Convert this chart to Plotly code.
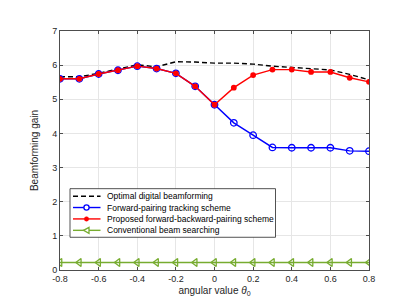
import plotly.graph_objects as go

# ---------------- data ----------------
angles = [-0.8, -0.7, -0.6, -0.5, -0.4, -0.3, -0.2, -0.1, 0.0,
          0.1, 0.2, 0.3, 0.4, 0.5, 0.6, 0.7, 0.8]
optimal = [5.66, 5.66, 5.76, 5.89, 6.01, 5.95, 6.10, 6.09, 6.06,
           6.06, 6.03, 5.97, 5.94, 5.89, 5.86, 5.73, 5.57]
forward = [5.60, 5.60, 5.74, 5.85, 5.97, 5.90, 5.76, 5.38, 4.84,
           4.31, 3.95, 3.59, 3.58, 3.58, 3.58, 3.49, 3.48]
proposed = [5.60, 5.60, 5.74, 5.85, 5.97, 5.90, 5.76, 5.38, 4.84,
            5.34, 5.71, 5.87, 5.87, 5.80, 5.80, 5.63, 5.51]
conventional = [0.22] * 17

names = ["Optimal digital beamforming",
         "Forward-pairing tracking scheme",
         "Proposed forward-backward-pairing scheme",
         "Conventional beam searching"]

xtick_vals = [-0.8, -0.6, -0.4, -0.2, 0, 0.2, 0.4, 0.6, 0.8]
xtick_text = ["-0.8", "-0.6", "-0.4", "-0.2", "0", "0.2", "0.4", "0.6", "0.8"]
ytick_vals = [0, 1, 2, 3, 4, 5, 6, 7]

# ---------------- style ----------------
W, H = 399, 299
ML, MR, MT, MB = 52, 38, 23, 35
PW, PH = W - ML - MR, H - MT - MB
FONT = "Liberation Sans, Arial, Helvetica, sans-serif"
AX = "#262626"
FRAME = "#4d4d4d"
GREEN = "#77ac30"


def px(x):
    return (x - ML) / PW


def py(y):
    return (H - MB - y) / PH


fig = go.Figure()
fig.add_trace(go.Scatter(x=angles, y=optimal, mode="lines", name=names[0],
                         line=dict(color="black", width=1.4, dash="5px,3px")))
fig.add_trace(go.Scatter(x=angles, y=forward, mode="lines+markers", name=names[1],
                         line=dict(color="#0000ff", width=1.4),
                         marker=dict(symbol="circle-open", size=6.5, color="#0000ff",
                                     line=dict(width=1.3, color="#0000ff"))))
fig.add_trace(go.Scatter(x=angles, y=proposed, mode="lines+markers", name=names[2],
                         line=dict(color="#ff0000", width=1.4),
                         marker=dict(symbol="circle", size=5.8, color="#ff0000")))
fig.add_trace(go.Scatter(x=angles, y=conventional, mode="lines+markers", name=names[3],
                         line=dict(color=GREEN, width=1.4),
                         marker=dict(symbol="triangle-left-open", size=7, color=GREEN,
                                     line=dict(width=1.3, color=GREEN))))

# ---------------- manual legend ----------------
shapes = []
annotations = []
shapes.append(dict(type="rect", xref="paper", yref="paper",
                   x0=px(62), x1=px(267.5), y0=py(231), y1=py(182),
                   fillcolor="white", line=dict(color=AX, width=0.8), layer="above"))
rows = [189.7, 201.0, 212.5, 224.0]
styles = [("black", "5px,3px", None), ("#0000ff", "solid", "circ_open"),
          ("#ff0000", "solid", "dot"), (GREEN, "solid", "tri")]
for r, (c, d, m), nm in zip(rows, styles, names):
    shapes.append(dict(type="line", xref="paper", yref="paper",
                       x0=px(65), x1=px(92.5), y0=py(r), y1=py(r),
                       line=dict(color=c, width=1.4, dash=d), layer="above"))
    if m == "circ_open":
        shapes.append(dict(type="circle", xref="paper", yref="paper",
                           xsizemode="pixel", ysizemode="pixel",
                           xanchor=px(78.5), yanchor=py(r),
                           x0=-2.6, x1=2.6, y0=-2.6, y1=2.6,
                           fillcolor="white", line=dict(color=c, width=1.3), layer="above"))
    elif m == "dot":
        shapes.append(dict(type="circle", xref="paper", yref="paper",
                           xsizemode="pixel", ysizemode="pixel",
                           xanchor=px(78.5), yanchor=py(r),
                           x0=-2.2, x1=2.2, y0=-2.2, y1=2.2,
                           fillcolor=c, line=dict(color=c, width=0.5), layer="above"))
    elif m == "tri":
        shapes.append(dict(type="path", xref="paper", yref="paper",
                           xsizemode="pixel", ysizemode="pixel",
                           xanchor=px(78.5), yanchor=py(r),
                           path="M -3 0 L 2.5 3 L 2.5 -3 Z",
                           fillcolor="white", line=dict(color=c, width=1.3), layer="above"))
    annotations.append(dict(xref="paper", yref="paper", x=px(96.5), y=py(r),
                            text=nm, showarrow=False, xanchor="left", yanchor="middle",
                            font=dict(family=FONT, size=8.5, color="black")))

fig.update_layout(
    width=W, height=H,
    margin=dict(l=ML, r=MR, t=MT, b=MB),
    paper_bgcolor="white", plot_bgcolor="white",
    showlegend=False,
    font=dict(family=FONT, size=9, color=AX),
    shapes=shapes, annotations=annotations,
    xaxis=dict(range=[-0.8, 0.8], tickvals=xtick_vals, ticktext=xtick_text,
               showgrid=True, gridcolor="#e6e6e6", gridwidth=1, zeroline=False,
               showline=True, linecolor=FRAME, linewidth=0.8, mirror="ticks",
               ticks="inside", ticklen=3, tickcolor=FRAME, tickwidth=0.8,
               tickfont=dict(size=9, color=AX),
               title=dict(text="angular value <i>θ</i><sub>0</sub>",
                          font=dict(size=10, color=AX), standoff=4)),
    yaxis=dict(range=[0, 7], tickvals=ytick_vals,
               showgrid=True, gridcolor="#e6e6e6", gridwidth=1, zeroline=False,
               showline=True, linecolor=FRAME, linewidth=0.8, mirror="ticks",
               ticks="inside", ticklen=3, tickcolor=FRAME, tickwidth=0.8,
               tickfont=dict(size=9, color=AX),
               title=dict(text="Beamforming gain", font=dict(size=10, color=AX),
                          standoff=11)),
)

fig.write_html("out.html")
